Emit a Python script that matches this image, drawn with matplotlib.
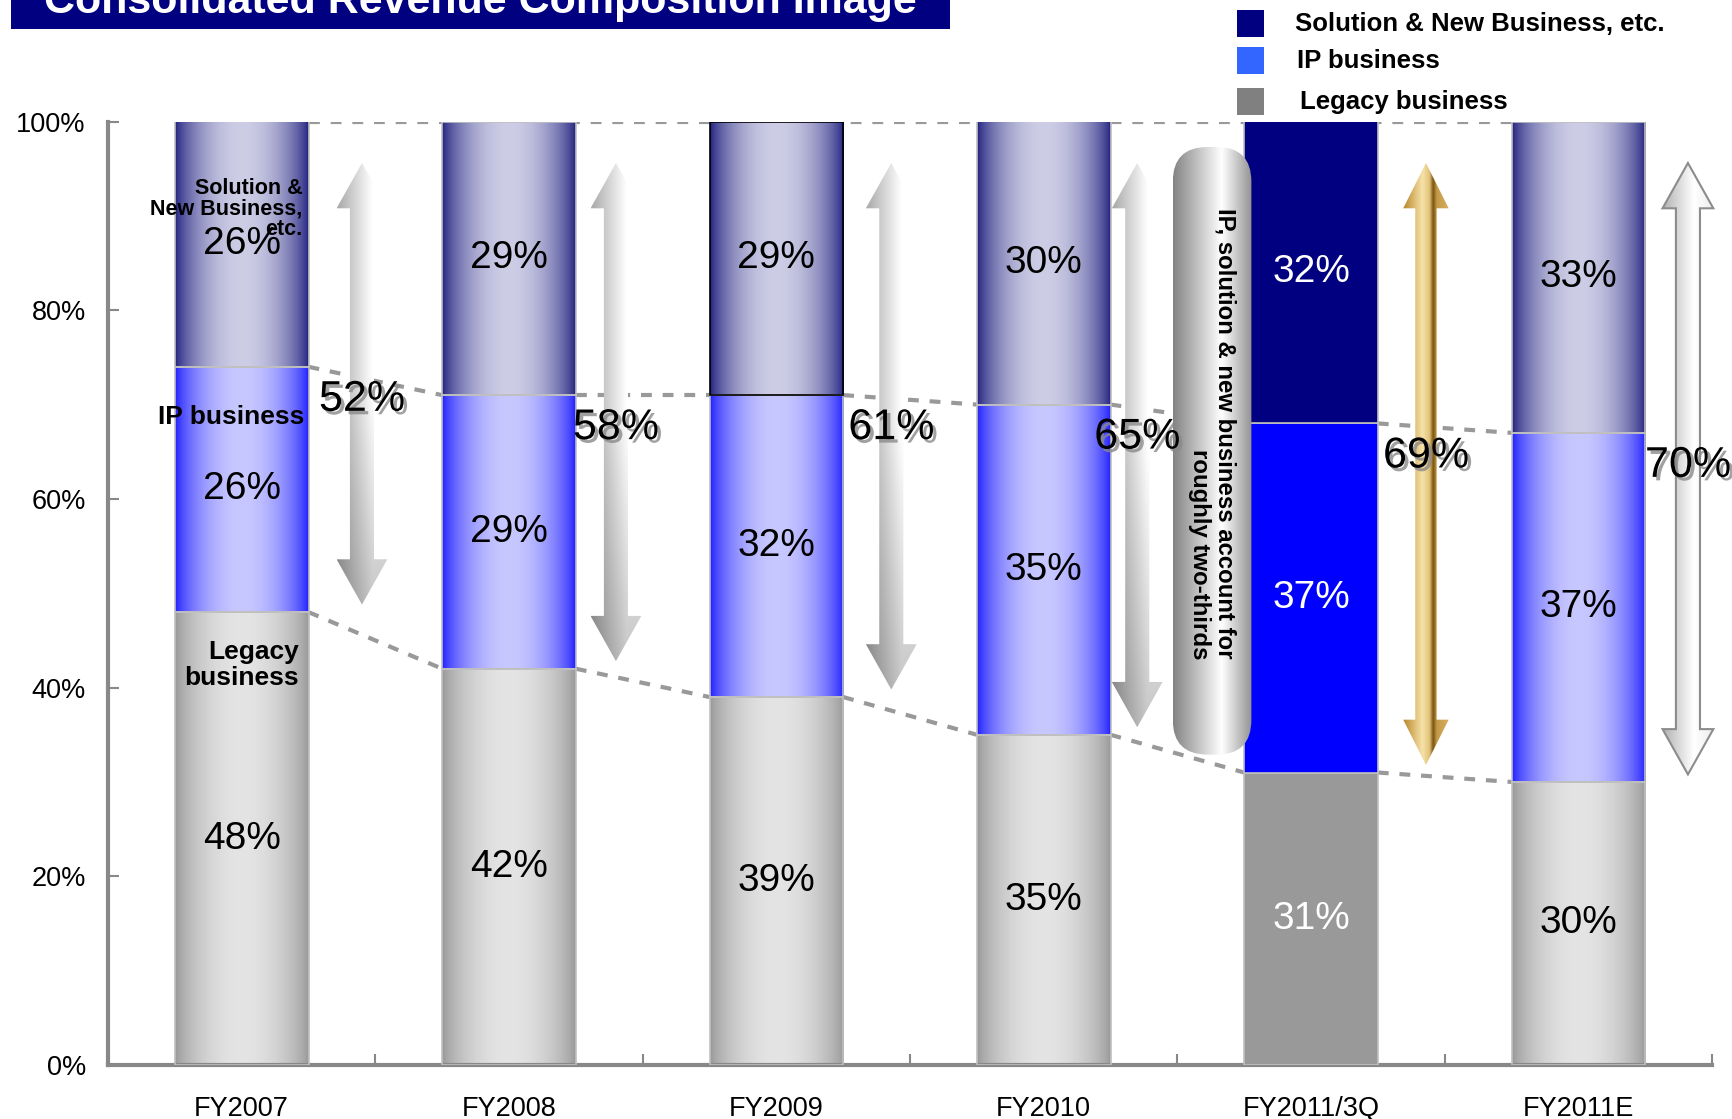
import numpy as np
import matplotlib
matplotlib.use("Agg")
import matplotlib.pyplot as plt
import matplotlib.patheffects as pe
from matplotlib.colors import to_rgb
from matplotlib.patches import Rectangle, Polygon, FancyBboxPatch

plt.rcParams["font.family"] = ["Liberation Sans", "DejaVu Sans"]

# revenue mix per fiscal year (% of consolidated revenue)
years = ["FY2007", "FY2008", "FY2009", "FY2010", "FY2011/3Q", "FY2011E"]
legacy = [48, 42, 39, 35, 31, 30]
ip_biz = [26, 29, 32, 35, 37, 37]
solution = [26, 29, 29, 30, 32, 33]

series_names = ["Solution & New Business, etc.", "IP business", "Legacy business"]

# layout
W, H, DPI = 1732, 1119, 100
BAR_W = 0.5
solid_bar = [False, False, False, False, True, False]
arrow_dx = [0.45, 0.40, 0.43, 0.35, 0.43, 0.41]

# (edge colour, centre colour, flat colour) for the cylinder look
STYLE = {
    "sol": ("#1c1c7c", "#cdcde6", "#000080"),
    "ip": ("#1a1aff", "#c8c8ff", "#0000ff"),
    "leg": ("#969696", "#e4e4e4", "#999999"),
}


def px(x, y):
    """figure pixel (from top-left) -> figure fraction"""
    return x / W, 1 - y / H


def cylinder(ax, x, y0, h, key, flat, edge="#c0c0c0"):
    dark, light, solid = STYLE[key]
    x0 = x - BAR_W / 2
    if flat:
        ax.add_patch(Rectangle((x0, y0), BAR_W, h, facecolor=solid,
                               edgecolor=edge, lw=1.2, zorder=3))
        return
    t = np.linspace(0, 1, 240)
    p = np.sin(np.pi * t) ** 0.7
    d, l = np.array(to_rgb(dark)), np.array(to_rgb(light))
    row = d[None, :] + (l - d)[None, :] * p[:, None]
    img = np.repeat(row[None, :, :], 2, axis=0)
    ax.imshow(img, extent=[x0, x0 + BAR_W, y0, y0 + h], aspect="auto",
              interpolation="bilinear", zorder=2)
    ax.add_patch(Rectangle((x0, y0), BAR_W, h, facecolor="none",
                           edgecolor=edge, lw=1.2, zorder=3))


def arrow_poly(cx, yb, yt, hw, sw, hl):
    return [(cx, yt), (cx + hw, yt - hl), (cx + sw, yt - hl), (cx + sw, yb + hl),
            (cx + hw, yb + hl), (cx, yb), (cx - hw, yb + hl), (cx - sw, yb + hl),
            (cx - sw, yt - hl), (cx - hw, yt - hl)]


def shaded(ax, patch, extent, img, z):
    ax.add_patch(patch)
    im = ax.imshow(img, extent=extent, aspect="auto", origin="lower",
                   interpolation="bilinear", zorder=z)
    im.set_clip_path(patch)
    im.set_clip_box(None)
    return im


fig = plt.figure(figsize=(W / DPI, H / DPI), dpi=DPI)
ax = fig.add_axes([108 / W, 1 - 1065 / H, (1712 - 108) / W, (1065 - 121.5) / H])
n = len(years)
xs = np.arange(n)

# stacked cylinders
for i in range(n):
    cylinder(ax, xs[i], 0, legacy[i], "leg", solid_bar[i])
    cylinder(ax, xs[i], legacy[i], ip_biz[i], "ip", solid_bar[i])
    cylinder(ax, xs[i], legacy[i] + ip_biz[i], solution[i], "sol", solid_bar[i],
             edge="black" if i == 2 else "#c0c0c0")

    lab_col = "white" if solid_bar[i] else "black"
    for y0, h in [(0, legacy[i]), (legacy[i], ip_biz[i]),
                  (legacy[i] + ip_biz[i], solution[i])]:
        ax.text(xs[i], y0 + h / 2, f"{h}%", ha="center", va="center",
                fontsize=28, color=lab_col, zorder=6)

# dashed connectors between bars
dash = dict(color="#999999", lw=3, ls=(0, (2.6, 2.6)), zorder=1)
ax.plot([xs[0] + BAR_W / 2, xs[-1] - BAR_W / 2], [100, 100], **dash)
for i in range(n - 1):
    xa, xb = xs[i] + BAR_W / 2, xs[i + 1] - BAR_W / 2
    ax.plot([xa, xb], [legacy[i], legacy[i + 1]], **dash)
    ax.plot([xa, xb], [legacy[i] + ip_biz[i], legacy[i + 1] + ip_biz[i + 1]], **dash)

# double arrows showing the IP + solution share
gw = np.linspace(0, 1, 60)
gv = np.linspace(0, 1, 200)
hh, vv = np.meshgrid(gw, gv)
grey_img = (0.66 + 0.34 * np.clip(hh / 0.7, 0, 1)) * (0.78 + 0.22 * np.clip(vv / 0.5, 0, 1))
grey_img = np.dstack([grey_img] * 3)

gold_stops = [0, 0.42, 0.58, 0.66, 0.74, 1]
gold_cols = np.array([to_rgb(c) for c in
                      ["#b8862b", "#f7e3a8", "#e2c27a", "#7a5510", "#c49a48", "#d6ae5c"]])
gold_row = np.stack([np.interp(gw, gold_stops, gold_cols[:, k]) for k in range(3)], axis=1)
gold_img = np.repeat(gold_row[None, :, :], 2, axis=0)

out_row = np.interp(gw, [0, 0.6, 1], [0.70, 1.0, 0.93])
out_img = np.dstack([np.repeat(out_row[None, :], 2, axis=0)] * 3)

for i in range(n):
    share = ip_biz[i] + solution[i]
    cx = xs[i] + arrow_dx[i]
    yb, yt = legacy[i] + 0.8, 95.6
    hw, sw, hl = 0.095, 0.045, 4.8
    if i == 4:
        hw, sw = 0.085, 0.04
    poly = Polygon(arrow_poly(cx, yb, yt, hw, sw, hl), closed=True, clip_on=False,
                   facecolor="none",
                   edgecolor="#8c8c8c" if i == 5 else "none", lw=1.5, zorder=4.5)
    img = gold_img if i == 4 else (out_img if i == 5 else grey_img)
    shaded(ax, poly, [cx - hw, cx + hw, yb, yt], img, 4)

    ax.text(cx, legacy[i] + ip_biz[i] - 3.5, f"{share}%", ha="center", va="center",
            fontsize=31, zorder=7,
            path_effects=[pe.withSimplePatchShadow(offset=(2.5, -2.5),
                                                   shadow_rgbFace="#8a8a8a", alpha=0.8)])

# callout capsule
fig_w_px = W * ax.get_position().width
fig_h_px = H * ax.get_position().height
aspect = (100 / fig_h_px) / (6 / fig_w_px)
bx0, bx1, by0, by1 = 3.483, 3.777, 32.9, 97.3
cap = FancyBboxPatch((bx0, by0), bx1 - bx0, by1 - by0,
                     boxstyle="round,pad=0,rounding_size=0.13",
                     mutation_aspect=aspect, facecolor="none", edgecolor="none", zorder=5)
cap_row = np.interp(gw, [0, 0.62, 1], [0.52, 1.0, 0.58])
cap_img = np.dstack([np.repeat(cap_row[None, :], 2, axis=0)] * 3)
shaded(ax, cap, [bx0, bx1, by0, by1], cap_img, 5)
ax.text((bx0 + bx1) / 2, 66.9,
        "IP, solution & new business account for\nroughly two-thirds",
        rotation=-90, ha="center", va="center", multialignment="right",
        fontsize=17.3, fontweight="bold", linespacing=1.15, zorder=6)

# series labels on the first bar
ax.text(0.227, 90.75, "Solution &\nNew Business,\netc.", ha="right", va="center",
        fontsize=15.5, fontweight="bold", linespacing=0.98, zorder=6)
ax.text(0.235, 68.7, "IP business", ha="right", va="center",
        fontsize=19, fontweight="bold", zorder=6)
ax.text(0.215, 42.4, "Legacy\nbusiness", ha="right", va="center",
        multialignment="right", fontsize=19, fontweight="bold",
        linespacing=1.1, zorder=6)

# axes styling
ax.set_xlim(-0.5, n - 0.5)
ax.set_ylim(0, 100)
ax.set_xticks(xs)
ax.set_xticklabels(years, fontsize=19.5)
ax.set_xticks(np.arange(n) + 0.5, minor=True)
ax.tick_params(axis="x", which="major", length=0, pad=22)
ax.tick_params(axis="x", which="minor", direction="in", length=8, width=1.5,
               color="#888888")
ax.set_yticks(np.arange(0, 101, 20))
ax.set_yticklabels([f"{v}%" for v in range(0, 101, 20)], fontsize=19.5)
ax.tick_params(axis="y", direction="in", length=8, width=1.5, color="#888888", pad=16)
for s in ("top", "right"):
    ax.spines[s].set_visible(False)
for s in ("left", "bottom"):
    ax.spines[s].set_color("#888888")
    ax.spines[s].set_linewidth(3)

# title banner
bx, by = px(11, 29)
fig.add_artist(Rectangle((bx, by), 939 / W, 40 / H, transform=fig.transFigure,
                         facecolor="#000080", edgecolor="none"))
tx, ty = px(480, 12.7)
fig.text(tx, ty, "Consolidated Revenue Composition Image", ha="center", va="baseline",
         fontsize=31, fontweight="bold", color="white")

# legend
leg_cols = ["#000080", "#3366ff", "#808080"]
leg_rows = [24, 61, 102]
leg_tx = [1295, 1297, 1300]
for name, col, ry, lx in zip(series_names, leg_cols, leg_rows, leg_tx):
    sx, sy = px(1237, ry + 13)
    fig.add_artist(Rectangle((sx, sy), 27 / W, 27 / H, transform=fig.transFigure,
                             facecolor=col, edgecolor="none"))
    fx, fy = px(lx, ry)
    fig.text(fx, fy, name, ha="left", va="center", fontsize=18.5, fontweight="bold")

fig.savefig("out.png", dpi=DPI)
